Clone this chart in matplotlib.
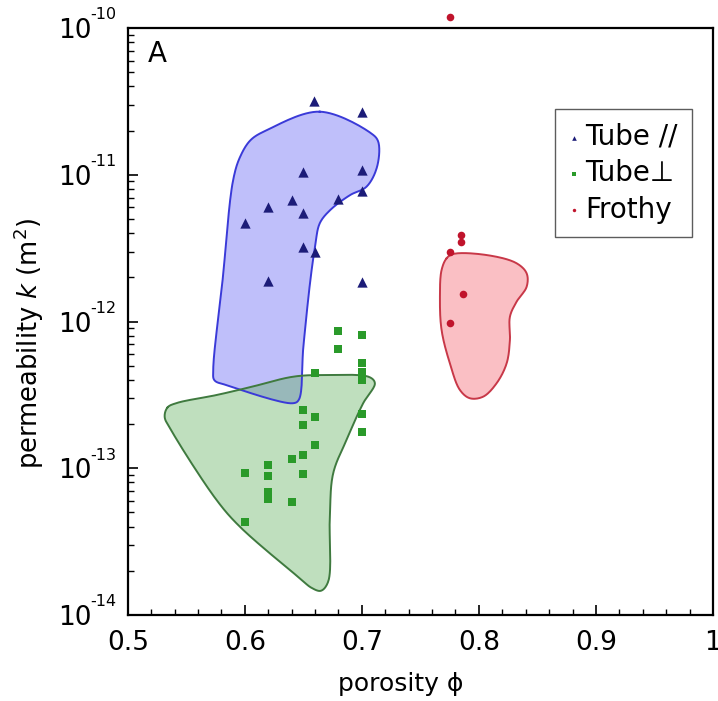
import numpy as np
import matplotlib
matplotlib.use("Agg")
import matplotlib.pyplot as plt
from matplotlib.ticker import FuncFormatter

plt.rcParams['font.family'] = ['DejaVu Sans']
plt.rcParams['mathtext.fontset'] = 'dejavusans'

# ---- data: porosity and permeability (m^2) ----
tube_par_phi = [0.659, 0.700, 0.650, 0.700, 0.700, 0.680, 0.640, 0.620, 0.650, 0.600, 0.650, 0.660, 0.620, 0.700]
tube_par_k = [3.2e-11, 2.67e-11, 1.05e-11, 1.07e-11, 7.7e-12, 6.8e-12, 6.7e-12, 6.0e-12, 5.5e-12, 4.7e-12,
              3.2e-12, 3.0e-12, 1.9e-12, 1.85e-12]

tube_perp_phi = [0.680, 0.700, 0.680, 0.700, 0.700, 0.700, 0.660, 0.650, 0.660, 0.650, 0.700, 0.700,
                 0.660, 0.650, 0.640, 0.620, 0.600, 0.650, 0.620, 0.620, 0.620, 0.640, 0.600]
tube_perp_k = [8.6e-13, 8.1e-13, 6.45e-13, 5.2e-13, 4.55e-13, 4.0e-13, 4.45e-13, 2.5e-13, 2.22e-13, 1.97e-13,
               2.34e-13, 1.77e-13, 1.44e-13, 1.23e-13, 1.15e-13, 1.05e-13, 9.3e-14, 9.1e-14, 8.8e-14,
               6.9e-14, 6.2e-14, 5.9e-14, 4.3e-14]

frothy_phi = [0.775, 0.785, 0.785, 0.775, 0.786, 0.775]
frothy_k = [1.19e-10, 3.9e-12, 3.5e-12, 3.0e-12, 1.54e-12, 9.7e-13]

# envelope outlines (porosity, log10 k)
blue_env_phi = [0.664, 0.708, 0.714, 0.713, 0.704, 0.690, 0.673, 0.664, 0.660, 0.656, 0.650, 0.646, 0.641,
                0.585, 0.574, 0.573, 0.581, 0.590, 0.596, 0.605, 0.619]
blue_env_logk = [-10.570, -10.718, -10.775, -10.945, -11.081, -11.138, -11.240, -11.331, -11.490, -11.717,
                 -12.172, -12.535, -12.557, -12.435, -12.400, -12.330, -11.717, -11.036, -10.877, -10.763,
                 -10.695]

green_env_phi = [0.5340, 0.5420, 0.5758, 0.6043, 0.6413, 0.6669, 0.7068, 0.7111, 0.7011, 0.6869, 0.6755,
                 0.6726, 0.6712, 0.6650, 0.6570, 0.6470, 0.5957, 0.5758, 0.5370, 0.5315]
green_env_logk = [-12.585, -12.555, -12.501, -12.448, -12.376, -12.365, -12.380, -12.421, -12.557, -12.807,
                  -13.034, -13.330, -13.773, -13.835, -13.815, -13.750, -13.398, -13.216, -12.740, -12.650]

red_env_phi = [0.7724, 0.7780, 0.8066, 0.8322, 0.8408, 0.8408, 0.8322, 0.8265, 0.8265, 0.8237, 0.8151,
               0.8037, 0.7923, 0.7838, 0.7752, 0.7681, 0.7667, 0.7681]
red_env_logk = [-11.569, -11.540, -11.547, -11.603, -11.672, -11.763, -11.865, -11.967, -12.126, -12.285,
                -12.421, -12.512, -12.523, -12.467, -12.285, -12.058, -11.831, -11.649]

x_ticks = [0.5, 0.6, 0.7, 0.8, 0.9, 1.0]
x_tick_labels = ['0.5', '0.6', '0.7', '0.8', '0.9', '1']
y_exponents = [-14, -13, -12, -11, -10]
series_labels = ['Tube //', 'Tube\u22a5', 'Frothy']


def smooth_closed(xs, ys, sx=1170.0, sy=146.75, n=16, alpha=0.5):
    """Closed centripetal Catmull-Rom spline through outline vertices (isotropic pixel-like space)."""
    P = np.column_stack([np.asarray(xs) * sx, np.asarray(ys) * sy])
    m = len(P)
    out = []
    for i in range(m):
        p0, p1, p2, p3 = P[(i - 1) % m], P[i], P[(i + 1) % m], P[(i + 2) % m]
        t0 = 0.0
        t1 = t0 + np.linalg.norm(p1 - p0) ** alpha
        t2 = t1 + np.linalg.norm(p2 - p1) ** alpha
        t3 = t2 + np.linalg.norm(p3 - p2) ** alpha
        for t in np.linspace(t1, t2, n, endpoint=False):
            a1 = (t1 - t) / (t1 - t0) * p0 + (t - t0) / (t1 - t0) * p1
            a2 = (t2 - t) / (t2 - t1) * p1 + (t - t1) / (t2 - t1) * p2
            a3 = (t3 - t) / (t3 - t2) * p2 + (t - t2) / (t3 - t2) * p3
            b1 = (t2 - t) / (t2 - t0) * a1 + (t - t0) / (t2 - t0) * a2
            b2 = (t3 - t) / (t3 - t1) * a2 + (t - t1) / (t3 - t1) * a3
            out.append((t2 - t) / (t2 - t1) * b1 + (t - t1) / (t2 - t1) * b2)
    out.append(out[0])
    out = np.array(out)
    return out[:, 0] / sx, 10 ** (out[:, 1] / sy)


fig = plt.figure(figsize=(7.18, 7.01), dpi=100)
ax = fig.add_axes([0.178, 0.1227, 0.815, 0.8373])

bx, by = smooth_closed(blue_env_phi, blue_env_logk)
ax.fill(bx, by, facecolor=(0.35, 0.35, 0.95, 0.38), edgecolor='none', zorder=1)
ax.plot(bx, by, color='#3a3ad8', lw=1.4, zorder=2)

gx, gy = smooth_closed(green_env_phi, green_env_logk)
ax.fill(gx, gy, facecolor=(0.35, 0.68, 0.33, 0.38), edgecolor='none', zorder=1)
ax.plot(gx, gy, color='#3f7a3f', lw=1.4, zorder=2)

rx, ry = smooth_closed(red_env_phi, red_env_logk)
ax.fill(rx, ry, facecolor=(0.97, 0.55, 0.58, 0.55), edgecolor='none', zorder=1)
ax.plot(rx, ry, color='#c83848', lw=1.4, zorder=2)

ax.scatter(tube_par_phi, tube_par_k, marker='^', s=55, color='#1c1c78', zorder=3,
           label=series_labels[0], linewidths=0)
ax.scatter(tube_perp_phi, tube_perp_k, marker='s', s=36, color='#2a9a2a', zorder=3,
           label=series_labels[1], linewidths=0)
ax.scatter(frothy_phi, frothy_k, marker='o', s=30, color='#c0142c', zorder=3,
           label=series_labels[2], linewidths=0, clip_on=False)

ax.set_yscale('log')
ax.set_xlim(0.5, 1.0)
ax.set_ylim(10.0 ** y_exponents[0], 10.0 ** y_exponents[-1])
ax.set_xticks(x_ticks)
ax.set_xticklabels(x_tick_labels)
ax.set_xticks(np.arange(0.5, 1.0001, 0.02), minor=True)
ax.set_yticks([10.0 ** e for e in y_exponents])
ax.yaxis.set_major_formatter(FuncFormatter(lambda v, p: '10'))
ax.tick_params(axis='both', which='both', direction='in', top=False, right=False)
ax.tick_params(axis='both', which='major', length=7, width=1.2, labelsize=19)
ax.tick_params(axis='x', which='major', pad=11)
ax.tick_params(axis='y', which='major', pad=26)
ax.tick_params(axis='both', which='minor', length=4, width=1.0)
for s in ax.spines.values():
    s.set_linewidth(1.6)

# small superscript exponents on the y tick labels
for e in y_exponents:
    ax.annotate('-%d' % abs(e), xy=(0, 10.0 ** e), xycoords=('axes fraction', 'data'),
                xytext=(-8, 4), textcoords='offset points', ha='right', va='bottom',
                fontsize=11.5, annotation_clip=False)

ax.set_xlabel('porosity \u03d5', fontsize=18)
ax.xaxis.set_label_coords(0.467, -0.097)
ax.set_ylabel('permeability $k$ (m$^2$)', fontsize=18.5)
ax.yaxis.set_label_coords(-0.139, 0.462)
ax.text(0.034, 0.98, 'A', transform=ax.transAxes, fontsize=20, va='top', ha='left')

leg = ax.legend(loc='upper left', bbox_to_anchor=(0.73, 0.862), fontsize=20, frameon=True,
                fancybox=False, edgecolor='#333333', handlelength=0.4, handletextpad=0.2,
                borderpad=0.5, labelspacing=0.3, markerscale=0.45, borderaxespad=0)
leg.get_frame().set_linewidth(1.0)

fig.savefig('out.png', dpi=100)
